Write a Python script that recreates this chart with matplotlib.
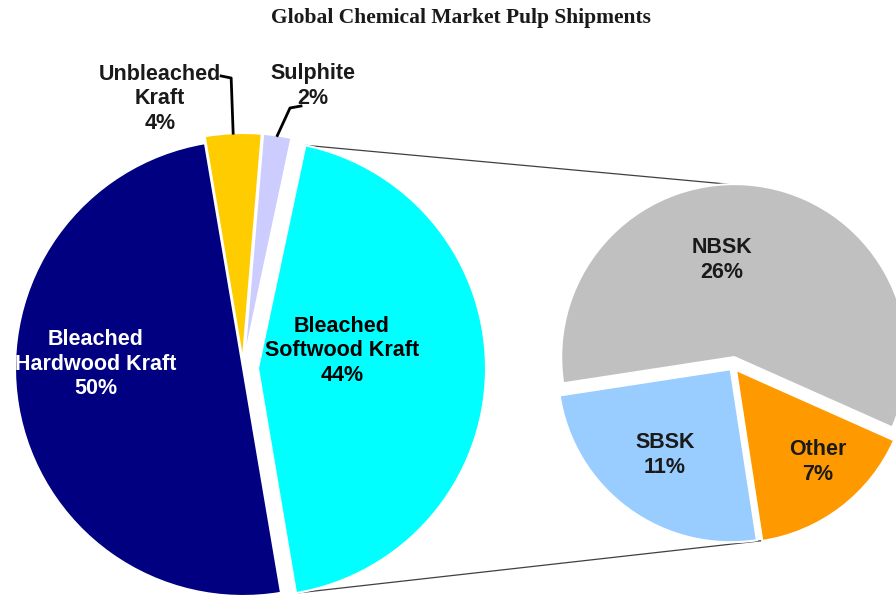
import numpy as np
import matplotlib
matplotlib.use("Agg")
import matplotlib.pyplot as plt

# main pie: market pulp shipments by grade
main_labels = ["Bleached\nHardwood Kraft", "Bleached\nSoftwood Kraft", "Sulphite", "Unbleached\nKraft"]
main_values = [50, 44, 2, 4]
main_colors = ["#000080", "#00FFFF", "#CCCCFF", "#FFCC00"]

# breakdown of bleached softwood kraft
sub_labels = ["NBSK", "SBSK", "Other"]
sub_values = [26, 11, 7]
sub_colors = ["#C0C0C0", "#99CCFF", "#FF9900"]

title = "Global Chemical Market Pulp Shipments"

fig = plt.figure(figsize=(8.96, 5.96), dpi=100)
ax = fig.add_axes([0, 0, 1, 1])

font = "Liberation Sans"
fs = 15.5

# explode is in data units here (1 unit = 1 px)
wedges1, _ = ax.pie(main_values, colors=main_colors, startangle=99.6,
                    center=(243, 228), radius=228,
                    explode=[0, 15, 7, 7],
                    wedgeprops=dict(edgecolor="white", linewidth=1.5))
wedges2, _ = ax.pie(sub_values, colors=sub_colors, startangle=-24,
                    center=(733, 230), radius=173,
                    explode=[9, 4, 5],
                    wedgeprops=dict(edgecolor="white", linewidth=1.5))
ax.set_xlim(0, 896)
ax.set_ylim(0, 596)
ax.set_aspect("equal")
ax.axis("off")


def edge_point(w, ang):
    cx, cy = w.center
    a = np.deg2rad(ang)
    return cx + w.r * np.cos(a), cy + w.r * np.sin(a)


# connector lines from softwood slice to breakdown pie
cyan = wedges1[1]
p_top = edge_point(cyan, cyan.theta2)
p_bot = edge_point(cyan, cyan.theta1)
q_top = edge_point(wedges2[0], 92)
q_bot = edge_point(wedges2[2], wedges2[2].theta1 + 2)
ax.plot([p_top[0], q_top[0]], [p_top[1], q_top[1]], color="#404040", lw=0.9, zorder=0)
ax.plot([p_bot[0], q_bot[0]], [p_bot[1], q_bot[1]], color="#404040", lw=0.9, zorder=0)

lsp = 1.2
# labels inside the slices
ax.text(96, 232, main_labels[0] + "\n%d%%" % main_values[0], color="white",
        ha="center", va="center", fontsize=fs, fontweight="bold", family=font, linespacing=lsp)
ax.text(342, 245, main_labels[1] + "\n%d%%" % main_values[1], color="black",
        ha="center", va="center", fontsize=fs, fontweight="bold", family=font, linespacing=lsp)
ax.text(722, 336, sub_labels[0] + "\n%d%%" % sub_values[0], color="#1a1a1a",
        ha="center", va="center", fontsize=fs, fontweight="bold", family=font, linespacing=lsp)
ax.text(665, 141, sub_labels[1] + "\n%d%%" % sub_values[1], color="#1a1a1a",
        ha="center", va="center", fontsize=fs, fontweight="bold", family=font, linespacing=lsp)
ax.text(818, 134, sub_labels[2] + "\n%d%%" % sub_values[2], color="#1a1a1a",
        ha="center", va="center", fontsize=fs, fontweight="bold", family=font, linespacing=lsp)

# small slices with leader lines
gold = wedges1[3]
g0 = edge_point(gold, (gold.theta1 + gold.theta2) / 2)
ax.plot([g0[0], g0[0] - 2, g0[0] - 12], [g0[1], 518, 520], color="black", lw=2)
ax.text(160, 497, main_labels[3] + "\n%d%%" % main_values[3], color="#1a1a1a",
        ha="center", va="center", fontsize=fs, fontweight="bold", family=font, linespacing=lsp)

lav = wedges1[2]
l0 = edge_point(lav, (lav.theta1 + lav.theta2) / 2)
ax.plot([l0[0], 290, 301], [l0[1], 488, 490], color="black", lw=2)
ax.text(313, 510, main_labels[2] + "\n%d%%" % main_values[2], color="#1a1a1a",
        ha="center", va="center", fontsize=fs, fontweight="bold", family=font, linespacing=lsp)

ax.text(461, 578, title, ha="center", va="center", fontsize=15.5,
        fontweight="bold", family="Liberation Serif", color="#1a1a1a")

fig.savefig("out.png", dpi=100)
